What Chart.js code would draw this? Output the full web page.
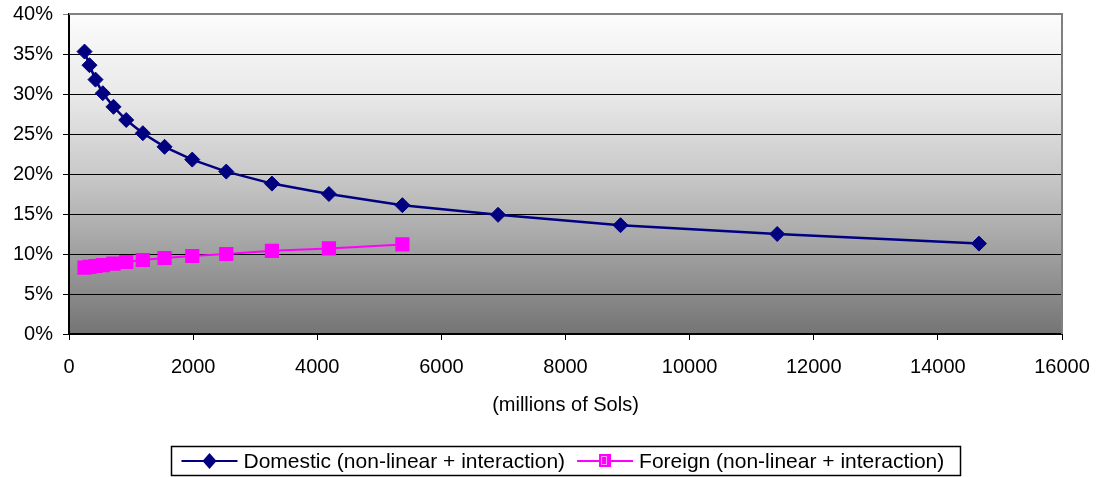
<!DOCTYPE html>
<html>
<head>
<meta charset="utf-8">
<script src="https://cdn.jsdelivr.net/npm/chart.js@4/dist/chart.umd.min.js"></script>
<style>
  html, body { margin: 0; padding: 0; background: #ffffff; }
  #wrap { width: 1096px; height: 477px; }
</style>
</head>
<body>
<div id="wrap"><canvas id="c" width="1096" height="477"></canvas></div>
<script>
// Loan size (millions of Sols) and estimated rate (%)
const domesticX = [250, 330, 427, 545, 717, 922, 1190, 1540, 1986, 2534, 3270, 4188, 5372, 6913, 8886, 11411, 14662];
const domesticY = [35.3, 33.6, 31.8, 30.1, 28.4, 26.75, 25.1, 23.4, 21.8, 20.3, 18.8, 17.5, 16.1, 14.9, 13.6, 12.5, 11.3];
const foreignX  = [250, 330, 427, 545, 717, 922, 1190, 1540, 1986, 2534, 3270, 4188, 5372];
const foreignY  = [8.3, 8.4, 8.5, 8.6, 8.8, 9.0, 9.25, 9.5, 9.75, 10.0, 10.4, 10.7, 11.2];

const seriesLabels = ['Domestic (non-linear + interaction)', 'Foreign (non-linear + interaction)'];
const xTitle = '(millions of Sols)';
const yTicks = [0, 5, 10, 15, 20, 25, 30, 35, 40];
const xTicks = [0, 2000, 4000, 6000, 8000, 10000, 12000, 14000, 16000];

const FONT = 'Liberation Sans, Arial, sans-serif';
const NAVY = '#000080';
const MAGENTA = '#ff00ff';

const toPoints = (xs, ys) => xs.map((x, i) => ({ x: x, y: ys[i] }));

// Plot-area gradient, grey frame and boxed legend
const decorations = {
  id: 'decorations',
  beforeDraw(chart) {
    const { ctx, chartArea: a } = chart;
    const g = ctx.createLinearGradient(0, a.top, 0, a.bottom);
    g.addColorStop(0, '#fcfcfc');
    g.addColorStop(0.25, '#e9e9e9');
    g.addColorStop(0.5, '#c9c9c9');
    g.addColorStop(0.75, '#a0a0a0');
    g.addColorStop(1, '#747474');
    ctx.save();
    ctx.fillStyle = g;
    ctx.fillRect(a.left, a.top, a.right - a.left, a.bottom - a.top);
    ctx.restore();
  },
  beforeDatasetsDraw(chart) {
    const { ctx, chartArea: a } = chart;
    ctx.save();
    ctx.strokeStyle = '#808080';
    ctx.lineWidth = 2;
    ctx.beginPath();
    ctx.moveTo(a.left, a.top);
    ctx.lineTo(a.right, a.top);
    ctx.lineTo(a.right, a.bottom);
    ctx.stroke();
    ctx.restore();
  },
  afterDraw(chart) {
    const { ctx } = chart;
    const sample = 56, gapText = 6, gapItem = 12, padL = 10, padR = 16;
    ctx.save();
    ctx.font = '21px ' + FONT;
    const widths = seriesLabels.map(t => ctx.measureText(t).width);
    const inner = sample * 2 + gapText * 2 + widths[0] + widths[1] + gapItem;
    const cx = (chart.chartArea.left + chart.chartArea.right) / 2;
    const boxW = Math.round(inner + padL + padR);
    const boxL = Math.round(cx - boxW / 2) + 0.5;
    const boxT = 446.5, boxH = 29;
    const midY = boxT + boxH / 2;
    ctx.strokeStyle = '#000';
    ctx.lineWidth = 1.5;
    ctx.strokeRect(boxL, boxT, boxW, boxH);

    let x = boxL + padL;
    chart.data.datasets.forEach((ds, i) => {
      ctx.strokeStyle = ds.borderColor;
      ctx.lineWidth = 2;
      ctx.beginPath();
      ctx.moveTo(x, midY);
      ctx.lineTo(x + sample, midY);
      ctx.stroke();
      const mx = x + sample / 2;
      ctx.fillStyle = ds.pointBackgroundColor;
      if (ds.pointStyle === 'rectRot') {
        ctx.beginPath();
        ctx.moveTo(mx, midY - 8);
        ctx.lineTo(mx + 7, midY);
        ctx.lineTo(mx, midY + 8);
        ctx.lineTo(mx - 7, midY);
        ctx.closePath();
        ctx.fill();
      } else {
        ctx.fillRect(mx - 6, midY - 7, 12, 13);
        ctx.strokeStyle = '#ff99ff';
        ctx.lineWidth = 1;
        ctx.strokeRect(mx - 3.5, midY - 4.5, 5, 8);
      }
      x += sample + gapText;
      ctx.fillStyle = '#000';
      ctx.textBaseline = 'middle';
      ctx.textAlign = 'left';
      ctx.fillText(seriesLabels[i], x, midY + 1);
      x += widths[i] + gapItem;
    });
    ctx.restore();
  }
};

new Chart(document.getElementById('c'), {
  type: 'scatter',
  data: {
    datasets: [
      {
        label: seriesLabels[0],
        data: toPoints(domesticX, domesticY),
        showLine: true,
        borderColor: NAVY,
        borderWidth: 2.5,
        pointStyle: 'rectRot',
        pointRadius: 7.5,
        pointHoverRadius: 7.5,
        pointBorderWidth: 1,
        pointBackgroundColor: NAVY,
        pointBorderColor: NAVY
      },
      {
        label: seriesLabels[1],
        data: toPoints(foreignX, foreignY),
        showLine: true,
        borderColor: MAGENTA,
        borderWidth: 2,
        pointStyle: 'rect',
        pointRadius: 9,
        pointHoverRadius: 9,
        pointBorderWidth: 1.5,
        pointBackgroundColor: MAGENTA,
        pointBorderColor: MAGENTA
      }
    ]
  },
  options: {
    responsive: false,
    animation: false,
    layout: { padding: { top: 14, right: 34, left: 0, bottom: 0 } },
    plugins: {
      legend: { display: false },
      tooltip: { enabled: false }
    },
    scales: {
      x: {
        type: 'linear',
        min: 0,
        max: 16000,
        afterFit(scale) {
          scale.height = 143;
          scale.paddingLeft = 0;
          scale.paddingRight = 0;
        },
        afterBuildTicks(scale) { scale.ticks = xTicks.map(v => ({ value: v })); },
        ticks: {
          color: '#000',
          font: { family: FONT, size: 20 },
          padding: 15,
          maxRotation: 0,
          autoSkip: false,
          callback: v => String(v)
        },
        grid: { drawOnChartArea: false, drawTicks: true, tickLength: 6, color: '#000', lineWidth: 1 },
        border: { display: true, color: '#000', width: 2 },
        title: {
          display: true,
          text: xTitle,
          color: '#000',
          font: { family: FONT, size: 20 },
          padding: { top: 0, bottom: 60 }
        }
      },
      y: {
        type: 'linear',
        min: 0,
        max: 40,
        afterFit(scale) {
          scale.width = 69;
          scale.paddingTop = 0;
          scale.paddingBottom = 0;
        },
        afterBuildTicks(scale) { scale.ticks = yTicks.map(v => ({ value: v })); },
        ticks: {
          color: '#000',
          font: { family: FONT, size: 20 },
          padding: 10,
          callback: v => v + '%'
        },
        grid: {
          color: c => (c.tick && c.tick.value === 40 ? '#808080' : '#000'),
          lineWidth: 1,
          drawTicks: true,
          tickLength: 6
        },
        border: { display: true, color: '#000', width: 2 }
      }
    }
  },
  plugins: [decorations]
});
</script>
</body>
</html>
